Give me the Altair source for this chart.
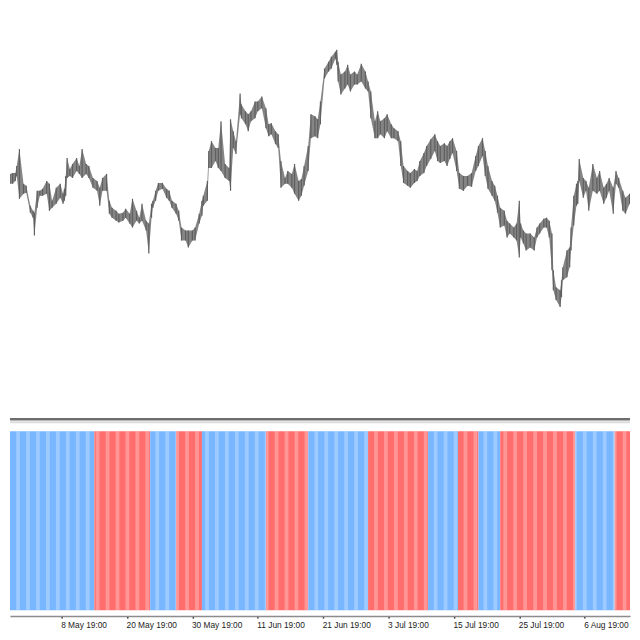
import altair as alt
import pandas as pd

# ---- price samples (bar index, high, low) ----
bars = [3,5,6,9,10,12,14,15,17,20,22,25,27,28,30,32,34,37,39,41,44,47,49,50,51,52,54,56,59,61,63,66,68,71,74,76,78,81,83,85,88,90,93,95,98,100,103,105,107,110,112,114,115,117,119,122,125,127,129,132,134,136,139,141,144,146,149,151,152,155,156,158,161,163,165,168,171,172,174,176,179,180,183,185,187,190,192,195,198,200,202,205,207,209,212,214,217,219,222,224,226,229,231,234,236,238,241,244,246,249,250,251,253,256,258,260,263,265,268,271,273,275,278,280,282,285,287,290,292,295,297,299,302,304,307,309,311,314,316,319,322,324,326,329,331,333,335,338,340,343,346,349,352,354,357,359,361,364,366,368,370,373,375,377,380,382,384,385,387,389,392,395,397,399,402,404,406,408,409,411,414,415,416,419,421,422,424,426,427,428,431,433,435,438,441,443,446,448,450,453,455,457,460,462,465,468,469]
high = [1.1287,1.1295,1.1300,1.1315,1.1327,1.1328,1.1328,1.1335,1.1352,1.1317,1.1315,1.1295,1.1290,1.1288,1.1310,1.1310,1.1312,1.1320,1.1317,1.1300,1.1313,1.1317,1.1307,1.1312,1.1325,1.1343,1.1332,1.1337,1.1343,1.1335,1.1352,1.1337,1.1335,1.1323,1.1320,1.1313,1.1323,1.1327,1.1300,1.1293,1.1290,1.1287,1.1288,1.1292,1.1287,1.1302,1.1290,1.1283,1.1297,1.1280,1.1277,1.1297,1.1300,1.1310,1.1318,1.1318,1.1312,1.1310,1.1300,1.1297,1.1290,1.1273,1.1270,1.1270,1.1270,1.1273,1.1287,1.1300,1.1305,1.1320,1.1350,1.1360,1.1353,1.1353,1.1380,1.1337,1.1333,1.1382,1.1370,1.1360,1.1408,1.1397,1.1390,1.1387,1.1390,1.1400,1.1400,1.1405,1.1393,1.1377,1.1378,1.1370,1.1367,1.1340,1.1323,1.1330,1.1327,1.1337,1.1320,1.1322,1.1335,1.1355,1.1387,1.1385,1.1382,1.1400,1.1433,1.1440,1.1445,1.1450,1.1452,1.1440,1.1427,1.1430,1.1437,1.1427,1.1430,1.1427,1.1438,1.1430,1.1420,1.1410,1.1380,1.1390,1.1380,1.1383,1.1387,1.1377,1.1373,1.1370,1.1360,1.1335,1.1330,1.1328,1.1332,1.1330,1.1340,1.1348,1.1355,1.1362,1.1367,1.1360,1.1355,1.1358,1.1355,1.1360,1.1363,1.1350,1.1328,1.1325,1.1325,1.1328,1.1345,1.1355,1.1363,1.1350,1.1335,1.1320,1.1315,1.1305,1.1293,1.1290,1.1280,1.1277,1.1273,1.1277,1.1300,1.1277,1.1270,1.1267,1.1267,1.1263,1.1273,1.1277,1.1282,1.1283,1.1280,1.1267,1.1230,1.1213,1.1210,1.1220,1.1233,1.1250,1.1253,1.1273,1.1305,1.1317,1.1320,1.1342,1.1323,1.1320,1.1313,1.1337,1.1323,1.1330,1.1313,1.1317,1.1323,1.1313,1.1330,1.1323,1.1310,1.1303,1.1307,1.1297,1.1267]
low = [1.1273,1.1280,1.1293,1.1300,1.1317,1.1317,1.1320,1.1325,1.1302,1.1307,1.1308,1.1288,1.1283,1.1265,1.1293,1.1305,1.1305,1.1307,1.1290,1.1293,1.1297,1.1303,1.1297,1.1300,1.1305,1.1323,1.1325,1.1323,1.1330,1.1327,1.1323,1.1327,1.1323,1.1313,1.1310,1.1295,1.1310,1.1310,1.1287,1.1283,1.1280,1.1278,1.1280,1.1283,1.1277,1.1273,1.1280,1.1277,1.1280,1.1270,1.1247,1.1283,1.1293,1.1300,1.1310,1.1312,1.1303,1.1300,1.1293,1.1287,1.1280,1.1260,1.1260,1.1253,1.1260,1.1260,1.1277,1.1285,1.1295,1.1300,1.1333,1.1333,1.1340,1.1333,1.1330,1.1323,1.1320,1.1310,1.1353,1.1347,1.1387,1.1383,1.1377,1.1370,1.1380,1.1383,1.1390,1.1393,1.1373,1.1365,1.1367,1.1357,1.1353,1.1313,1.1317,1.1317,1.1313,1.1307,1.1300,1.1305,1.1315,1.1330,1.1363,1.1365,1.1363,1.1377,1.1423,1.1430,1.1433,1.1443,1.1437,1.1420,1.1407,1.1413,1.1417,1.1410,1.1417,1.1417,1.1420,1.1413,1.1410,1.1383,1.1363,1.1363,1.1367,1.1363,1.1370,1.1363,1.1363,1.1360,1.1335,1.1318,1.1315,1.1313,1.1318,1.1320,1.1325,1.1328,1.1335,1.1342,1.1350,1.1340,1.1338,1.1340,1.1335,1.1342,1.1348,1.1330,1.1312,1.1310,1.1315,1.1314,1.1330,1.1335,1.1345,1.1325,1.1312,1.1305,1.1300,1.1288,1.1273,1.1275,1.1263,1.1267,1.1263,1.1260,1.1243,1.1263,1.1257,1.1250,1.1253,1.1250,1.1263,1.1267,1.1273,1.1273,1.1263,1.1230,1.1210,1.1200,1.1193,1.1203,1.1220,1.1223,1.1233,1.1250,1.1275,1.1295,1.1297,1.1320,1.1303,1.1310,1.1290,1.1310,1.1307,1.1310,1.1297,1.1303,1.1310,1.1287,1.1317,1.1313,1.1290,1.1287,1.1297,1.1280,1.1253]

# ---- indicator segments (bar index ranges) ----
seg_start = [0, 6.5, 72, 113, 132, 151, 198, 229, 273, 317, 339, 354, 370, 425, 454]
seg_end = [6.5, 72, 113, 132, 151, 198, 229, 273, 317, 339, 354, 370, 425, 454, 472]
seg_state = ["down", "up", "down", "up", "down", "up", "down", "up", "down", "up", "down", "up", "down", "up", "down"]

# ---- time axis ----
tick_bars = [48, 96, 144, 192, 240, 288, 336, 384, 432]
tick_labels = ["8 May 19:00", "20 May 19:00", "30 May 19:00", "11 Jun 19:00", "21 Jun 19:00",
               "3 Jul 19:00", "15 Jul 19:00", "25 Jul 19:00", "6 Aug 19:00"]

W = 624
H = 610
X_DOMAIN = [10.07, 465.3]

price = pd.DataFrame({"bar": bars, "high": high, "low": low})
segs = pd.DataFrame({"start": seg_start, "end": seg_end, "state": seg_state})

# texture stripes (visual pattern of the histogram)
stripe_rows = []
b = 0.0
while b < 472:
    stripe_rows.append({"s": b, "e": b + 2.8})
    b += 7.3
stripes = pd.DataFrame(stripe_rows)

xs = alt.Scale(domain=X_DOMAIN, nice=False, zero=False)
ps = alt.Scale(domain=[1.0882, 1.1492], nice=False, zero=False)
ys = alt.Scale(domain=[-0.0333, 3.3556], nice=False, zero=False)

xaxis = alt.Axis(values=tick_bars, title=None,
                 labelExpr="%s[round(datum.value/48)-1]" % str(tick_labels),
                 labelAlign="left", labelBaseline="top", labelFont="Liberation Sans", labelFontSize=8.4,
                 labelColor="#222222", labelPadding=2, labelOffset=-1, tickSize=2, tickColor="#333333",
                 tickWidth=1.5, domainColor="#8c8c8c", domainWidth=1.5, grid=False,
                 labelOverlap=False, labelBound=False, labelFlush=False)

rects = alt.Chart(segs).mark_rect(clip=True).encode(
    x=alt.X("start:Q", scale=xs, axis=xaxis),
    x2="end:Q",
    y=alt.Y("lo:Q", scale=ys, axis=None),
    y2="hi:Q",
    color=alt.Color("state:N", scale=alt.Scale(domain=["up", "down"], range=["#78b6ff", "#ff6d6d"]), legend=None),
).transform_calculate(lo="0", hi="1")

tex = alt.Chart(stripes).mark_rect(color="white", opacity=0.28, clip=True).encode(
    x=alt.X("s:Q", scale=xs),
    x2="e:Q",
    y=alt.Y("lo:Q", scale=ys, axis=None),
    y2="hi:Q",
).transform_calculate(lo="0", hi="1")

band = alt.Chart(price).mark_area(color="#858585", clip=True).encode(
    x=alt.X("bar:Q", scale=xs),
    y=alt.Y("low:Q", scale=ps, axis=None),
    y2="high:Q",
)
ticks = alt.Chart(price).mark_rule(color="#5f5f5f", strokeWidth=1.2, clip=True).encode(
    x=alt.X("bar:Q", scale=xs),
    y=alt.Y("low:Q", scale=ps, axis=None),
    y2="high:Q",
)

one = pd.DataFrame({"k": [0]})
sep = alt.Chart(one).mark_rule(color="#6e6e6e", strokeWidth=2.5).encode(
    x=alt.value(0), x2=alt.value(W), y=alt.value(412)
)
light = alt.Chart(one).mark_rule(color="#dcdcdc", strokeWidth=2).encode(
    x=alt.value(0), x2=alt.value(W), y=alt.value(415)
)

bottom = alt.layer(rects, tex).resolve_scale(y="shared")
top = alt.layer(band, ticks).resolve_scale(y="shared")

chart = (
    alt.layer(bottom, top, sep, light)
    .resolve_scale(y="independent")
    .properties(width=W, height=H, padding=0)
    .configure_view(stroke=None)
)

chart.save("out.html", embed_options={"renderer": "svg", "actions": False})
